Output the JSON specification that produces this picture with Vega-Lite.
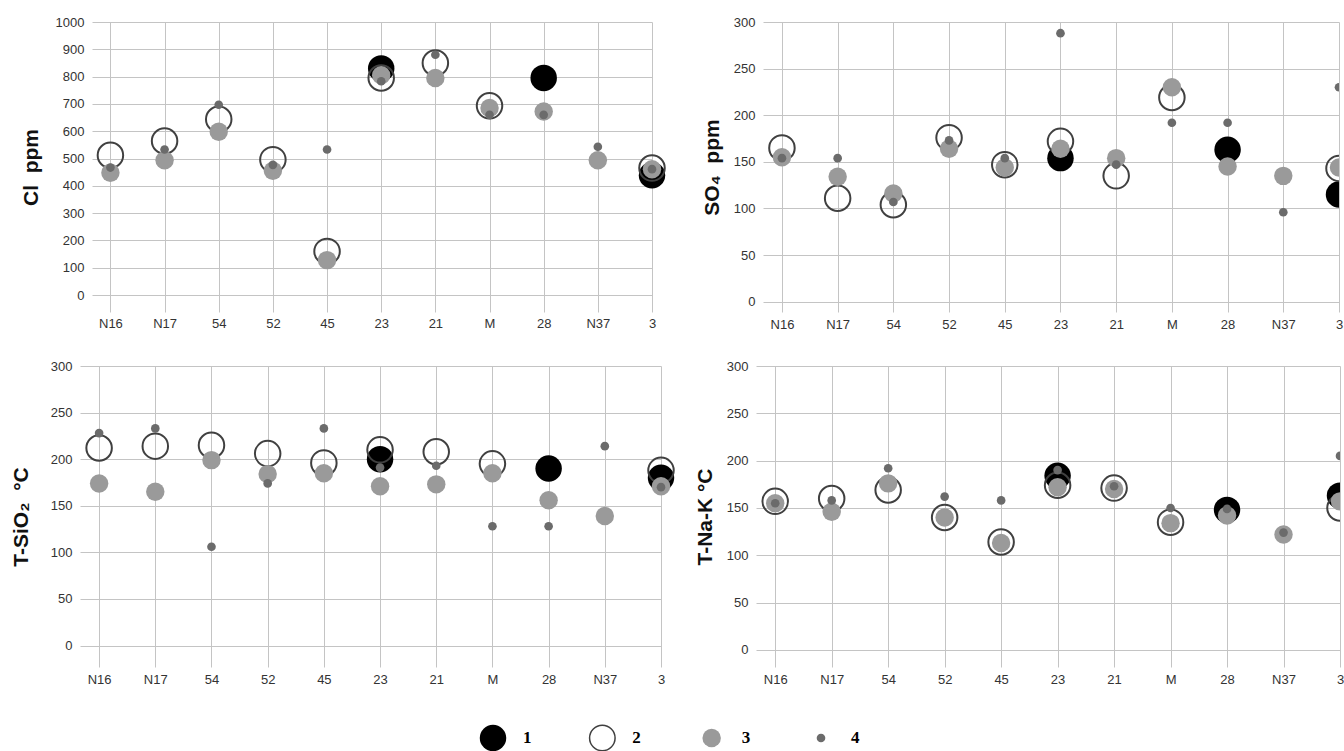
{
  "$schema": "https://vega.github.io/schema/vega-lite/v6.json",
  "padding": {"left": 10, "top": 16, "right": 0, "bottom": 0},
  "background": "white",
  "spacing": 29,
  "datasets": {
    "main": [
      {"panel": "Cl", "well": "N16", "series": 2, "value": 512},
      {"panel": "Cl", "well": "N16", "series": 3, "value": 448},
      {"panel": "Cl", "well": "N16", "series": 4, "value": 467},
      {"panel": "Cl", "well": "N17", "series": 2, "value": 564},
      {"panel": "Cl", "well": "N17", "series": 3, "value": 494},
      {"panel": "Cl", "well": "N17", "series": 4, "value": 533},
      {"panel": "Cl", "well": "54", "series": 2, "value": 644},
      {"panel": "Cl", "well": "54", "series": 3, "value": 598},
      {"panel": "Cl", "well": "54", "series": 4, "value": 697},
      {"panel": "Cl", "well": "52", "series": 2, "value": 496},
      {"panel": "Cl", "well": "52", "series": 3, "value": 455},
      {"panel": "Cl", "well": "52", "series": 4, "value": 477},
      {"panel": "Cl", "well": "45", "series": 2, "value": 160},
      {"panel": "Cl", "well": "45", "series": 3, "value": 128},
      {"panel": "Cl", "well": "45", "series": 4, "value": 533},
      {"panel": "Cl", "well": "23", "series": 1, "value": 830},
      {"panel": "Cl", "well": "23", "series": 2, "value": 795},
      {"panel": "Cl", "well": "23", "series": 3, "value": 805},
      {"panel": "Cl", "well": "23", "series": 4, "value": 783},
      {"panel": "Cl", "well": "21", "series": 2, "value": 850},
      {"panel": "Cl", "well": "21", "series": 3, "value": 795},
      {"panel": "Cl", "well": "21", "series": 4, "value": 880},
      {"panel": "Cl", "well": "M", "series": 2, "value": 693},
      {"panel": "Cl", "well": "M", "series": 3, "value": 685},
      {"panel": "Cl", "well": "M", "series": 4, "value": 660},
      {"panel": "Cl", "well": "28", "series": 1, "value": 795},
      {"panel": "Cl", "well": "28", "series": 3, "value": 672},
      {"panel": "Cl", "well": "28", "series": 4, "value": 660},
      {"panel": "Cl", "well": "N37", "series": 3, "value": 494},
      {"panel": "Cl", "well": "N37", "series": 4, "value": 543},
      {"panel": "Cl", "well": "3", "series": 1, "value": 439},
      {"panel": "Cl", "well": "3", "series": 2, "value": 465},
      {"panel": "Cl", "well": "3", "series": 3, "value": 461},
      {"panel": "Cl", "well": "3", "series": 4, "value": 461},

      {"panel": "SO4", "well": "N16", "series": 2, "value": 165},
      {"panel": "SO4", "well": "N16", "series": 3, "value": 155},
      {"panel": "SO4", "well": "N16", "series": 4, "value": 154},
      {"panel": "SO4", "well": "N17", "series": 2, "value": 111},
      {"panel": "SO4", "well": "N17", "series": 3, "value": 134},
      {"panel": "SO4", "well": "N17", "series": 4, "value": 154},
      {"panel": "SO4", "well": "54", "series": 2, "value": 104},
      {"panel": "SO4", "well": "54", "series": 3, "value": 116},
      {"panel": "SO4", "well": "54", "series": 4, "value": 107},
      {"panel": "SO4", "well": "52", "series": 2, "value": 176},
      {"panel": "SO4", "well": "52", "series": 3, "value": 164},
      {"panel": "SO4", "well": "52", "series": 4, "value": 173},
      {"panel": "SO4", "well": "45", "series": 2, "value": 147},
      {"panel": "SO4", "well": "45", "series": 3, "value": 144},
      {"panel": "SO4", "well": "45", "series": 4, "value": 154},
      {"panel": "SO4", "well": "23", "series": 1, "value": 154},
      {"panel": "SO4", "well": "23", "series": 2, "value": 172},
      {"panel": "SO4", "well": "23", "series": 3, "value": 164},
      {"panel": "SO4", "well": "23", "series": 4, "value": 288},
      {"panel": "SO4", "well": "21", "series": 2, "value": 135},
      {"panel": "SO4", "well": "21", "series": 3, "value": 154},
      {"panel": "SO4", "well": "21", "series": 4, "value": 147},
      {"panel": "SO4", "well": "M", "series": 2, "value": 219},
      {"panel": "SO4", "well": "M", "series": 3, "value": 230},
      {"panel": "SO4", "well": "M", "series": 4, "value": 192},
      {"panel": "SO4", "well": "28", "series": 1, "value": 163},
      {"panel": "SO4", "well": "28", "series": 3, "value": 145},
      {"panel": "SO4", "well": "28", "series": 4, "value": 192},
      {"panel": "SO4", "well": "N37", "series": 3, "value": 135},
      {"panel": "SO4", "well": "N37", "series": 4, "value": 96},
      {"panel": "SO4", "well": "3", "series": 1, "value": 115},
      {"panel": "SO4", "well": "3", "series": 2, "value": 143},
      {"panel": "SO4", "well": "3", "series": 3, "value": 144},
      {"panel": "SO4", "well": "3", "series": 4, "value": 230},

      {"panel": "SiO2", "well": "N16", "series": 2, "value": 212},
      {"panel": "SiO2", "well": "N16", "series": 3, "value": 174},
      {"panel": "SiO2", "well": "N16", "series": 4, "value": 228},
      {"panel": "SiO2", "well": "N17", "series": 2, "value": 214},
      {"panel": "SiO2", "well": "N17", "series": 3, "value": 165},
      {"panel": "SiO2", "well": "N17", "series": 4, "value": 233},
      {"panel": "SiO2", "well": "54", "series": 2, "value": 215},
      {"panel": "SiO2", "well": "54", "series": 3, "value": 199},
      {"panel": "SiO2", "well": "54", "series": 4, "value": 106},
      {"panel": "SiO2", "well": "52", "series": 2, "value": 206},
      {"panel": "SiO2", "well": "52", "series": 3, "value": 184},
      {"panel": "SiO2", "well": "52", "series": 4, "value": 174},
      {"panel": "SiO2", "well": "45", "series": 2, "value": 196},
      {"panel": "SiO2", "well": "45", "series": 3, "value": 185},
      {"panel": "SiO2", "well": "45", "series": 4, "value": 233},
      {"panel": "SiO2", "well": "23", "series": 1, "value": 200},
      {"panel": "SiO2", "well": "23", "series": 2, "value": 210},
      {"panel": "SiO2", "well": "23", "series": 3, "value": 171},
      {"panel": "SiO2", "well": "23", "series": 4, "value": 191},
      {"panel": "SiO2", "well": "21", "series": 2, "value": 208},
      {"panel": "SiO2", "well": "21", "series": 3, "value": 173},
      {"panel": "SiO2", "well": "21", "series": 4, "value": 193},
      {"panel": "SiO2", "well": "M", "series": 2, "value": 195},
      {"panel": "SiO2", "well": "M", "series": 3, "value": 185},
      {"panel": "SiO2", "well": "M", "series": 4, "value": 128},
      {"panel": "SiO2", "well": "28", "series": 1, "value": 190},
      {"panel": "SiO2", "well": "28", "series": 3, "value": 156},
      {"panel": "SiO2", "well": "28", "series": 4, "value": 128},
      {"panel": "SiO2", "well": "N37", "series": 3, "value": 139},
      {"panel": "SiO2", "well": "N37", "series": 4, "value": 214},
      {"panel": "SiO2", "well": "3", "series": 1, "value": 180},
      {"panel": "SiO2", "well": "3", "series": 2, "value": 188},
      {"panel": "SiO2", "well": "3", "series": 3, "value": 171},
      {"panel": "SiO2", "well": "3", "series": 4, "value": 170},

      {"panel": "NaK", "well": "N16", "series": 2, "value": 157},
      {"panel": "NaK", "well": "N16", "series": 3, "value": 155},
      {"panel": "NaK", "well": "N16", "series": 4, "value": 155},
      {"panel": "NaK", "well": "N17", "series": 2, "value": 160},
      {"panel": "NaK", "well": "N17", "series": 3, "value": 146},
      {"panel": "NaK", "well": "N17", "series": 4, "value": 158},
      {"panel": "NaK", "well": "54", "series": 2, "value": 169},
      {"panel": "NaK", "well": "54", "series": 3, "value": 176},
      {"panel": "NaK", "well": "54", "series": 4, "value": 192},
      {"panel": "NaK", "well": "52", "series": 2, "value": 140},
      {"panel": "NaK", "well": "52", "series": 3, "value": 140},
      {"panel": "NaK", "well": "52", "series": 4, "value": 162},
      {"panel": "NaK", "well": "45", "series": 2, "value": 114},
      {"panel": "NaK", "well": "45", "series": 3, "value": 113},
      {"panel": "NaK", "well": "45", "series": 4, "value": 158},
      {"panel": "NaK", "well": "23", "series": 1, "value": 184},
      {"panel": "NaK", "well": "23", "series": 2, "value": 174},
      {"panel": "NaK", "well": "23", "series": 3, "value": 172},
      {"panel": "NaK", "well": "23", "series": 4, "value": 190},
      {"panel": "NaK", "well": "21", "series": 2, "value": 171},
      {"panel": "NaK", "well": "21", "series": 3, "value": 170},
      {"panel": "NaK", "well": "21", "series": 4, "value": 173},
      {"panel": "NaK", "well": "M", "series": 2, "value": 135},
      {"panel": "NaK", "well": "M", "series": 3, "value": 134},
      {"panel": "NaK", "well": "M", "series": 4, "value": 150},
      {"panel": "NaK", "well": "28", "series": 1, "value": 148},
      {"panel": "NaK", "well": "28", "series": 3, "value": 142},
      {"panel": "NaK", "well": "28", "series": 4, "value": 149},
      {"panel": "NaK", "well": "N37", "series": 3, "value": 122},
      {"panel": "NaK", "well": "N37", "series": 4, "value": 124},
      {"panel": "NaK", "well": "3", "series": 1, "value": 163},
      {"panel": "NaK", "well": "3", "series": 2, "value": 150},
      {"panel": "NaK", "well": "3", "series": 3, "value": 157},
      {"panel": "NaK", "well": "3", "series": 4, "value": 205}
    ],
    "legend": [
      {"series": 1, "label": "1"},
      {"series": 2, "label": "2"},
      {"series": 3, "label": "3"},
      {"series": 4, "label": "4"}
    ]
  },
  "vconcat": [
    {
      "spacing": 31,
      "hconcat": [
        {
          "width": 572, "height": 290,
          "data": {"name": "main"},
          "transform": [{"filter": "datum.panel == 'Cl'"}],
          "mark": {"type": "circle", "opacity": 1, "strokeWidth": 2},
          "encoding": {
            "x": {"field": "well", "type": "nominal", "scale": {"type": "point", "domain": ["N16","N17","54","52","45","23","21","M","28","N37","3"], "padding": 0.17, "align": 1, "range": [12, 572]}, "axis": {"title": null, "grid": true, "labelAngle": 0, "labelPadding": 5}},
            "y": {"field": "value", "type": "quantitative", "scale": {"domain": [-62, 1000], "nice": false, "zero": false}, "axis": {"title": "Cl\u00a0\u00a0ppm", "format": "d", "values": [0,100,200,300,400,500,600,700,800,900,1000], "labelPadding": -4, "titlePadding": 14}},
            "fill": {"field": "series", "type": "nominal", "scale": {"domain": [1,2,3,4], "range": ["#000000", "transparent", "#9a9a9a", "#6b6b6b"]}, "legend": null},
            "stroke": {"field": "series", "type": "nominal", "scale": {"domain": [1,2,3,4], "range": ["transparent", "#404040", "transparent", "transparent"]}, "legend": null},
            "size": {"field": "series", "type": "quantitative", "scale": {"type": "threshold", "domain": [1.5, 2.5, 3.5], "range": [700, 650, 340, 75]}, "legend": null}
          }
        },
        {
          "width": 576, "height": 290,
          "data": {"name": "main"},
          "transform": [{"filter": "datum.panel == 'SO4'"}],
          "mark": {"type": "circle", "opacity": 1, "strokeWidth": 2, "clip": true},
          "encoding": {
            "x": {"field": "well", "type": "nominal", "scale": {"type": "point", "domain": ["N16","N17","54","52","45","23","21","M","28","N37","3"], "padding": 0.17, "align": 1}, "axis": {"title": null, "grid": true, "labelAngle": 0, "labelPadding": 6}},
            "y": {"field": "value", "type": "quantitative", "scale": {"domain": [-11, 300], "nice": false, "zero": false}, "axis": {"title": "SO\u2084\u00a0\u00a0ppm", "values": [0,50,100,150,200,250,300], "labelPadding": 8, "titlePadding": 11}},
            "fill": {"field": "series", "type": "nominal", "scale": {"domain": [1,2,3,4], "range": ["#000000", "transparent", "#9a9a9a", "#6b6b6b"]}, "legend": null},
            "stroke": {"field": "series", "type": "nominal", "scale": {"domain": [1,2,3,4], "range": ["transparent", "#404040", "transparent", "transparent"]}, "legend": null},
            "size": {"field": "series", "type": "quantitative", "scale": {"type": "threshold", "domain": [1.5, 2.5, 3.5], "range": [729, 680, 340, 75]}, "legend": null}
          }
        }
      ]
    },
    {
      "spacing": 35,
      "vconcat": [
        {
          "spacing": 15,
          "hconcat": [
            {
              "width": 581, "height": 301,
              "data": {"name": "main"},
              "transform": [{"filter": "datum.panel == 'SiO2'"}],
              "mark": {"type": "circle", "opacity": 1, "strokeWidth": 2},
              "encoding": {
                "x": {"field": "well", "type": "nominal", "scale": {"type": "point", "domain": ["N16","N17","54","52","45","23","21","M","28","N37","3"], "padding": 0.17, "align": 1}, "axis": {"title": null, "grid": true, "labelAngle": 0, "labelPadding": 6}},
                "y": {"field": "value", "type": "quantitative", "scale": {"domain": [-23, 300], "nice": false, "zero": false}, "axis": {"title": "T-SiO\u2082\u00a0\u00a0°C", "values": [0,50,100,150,200,250,300], "labelPadding": 8, "titlePadding": 19}},
                "fill": {"field": "series", "type": "nominal", "scale": {"domain": [1,2,3,4], "range": ["#000000", "transparent", "#9a9a9a", "#6b6b6b"]}, "legend": null},
                "stroke": {"field": "series", "type": "nominal", "scale": {"domain": [1,2,3,4], "range": ["transparent", "#404040", "transparent", "transparent"]}, "legend": null},
                "size": {"field": "series", "type": "quantitative", "scale": {"type": "threshold", "domain": [1.5, 2.5, 3.5], "range": [760, 729, 361, 80]}, "legend": null}
              }
            },
            {
              "width": 584, "height": 301,
              "data": {"name": "main"},
              "transform": [{"filter": "datum.panel == 'NaK'"}],
              "mark": {"type": "circle", "opacity": 1, "strokeWidth": 2, "clip": true},
              "encoding": {
                "x": {"field": "well", "type": "nominal", "scale": {"type": "point", "domain": ["N16","N17","54","52","45","23","21","M","28","N37","3"], "padding": 0.17, "align": 1}, "axis": {"title": null, "grid": true, "labelAngle": 0, "labelPadding": 6}},
                "y": {"field": "value", "type": "quantitative", "scale": {"domain": [-18, 300], "nice": false, "zero": false}, "axis": {"title": "T-Na-K °C", "values": [0,50,100,150,200,250,300], "labelPadding": 8, "titlePadding": 11}},
                "fill": {"field": "series", "type": "nominal", "scale": {"domain": [1,2,3,4], "range": ["#000000", "transparent", "#9a9a9a", "#6b6b6b"]}, "legend": null},
                "stroke": {"field": "series", "type": "nominal", "scale": {"domain": [1,2,3,4], "range": ["transparent", "#404040", "transparent", "transparent"]}, "legend": null},
                "size": {"field": "series", "type": "quantitative", "scale": {"type": "threshold", "domain": [1.5, 2.5, 3.5], "range": [760, 729, 361, 80]}, "legend": null}
              }
            }
          ]
        },
        {
          "width": 880, "height": 28,
          "data": {"name": "legend"},
          "layer": [
            {
              "mark": {"type": "circle", "opacity": 1, "strokeWidth": 1.5},
              "encoding": {
                "x": {"field": "label", "type": "nominal", "scale": {"type": "point", "domain": ["1","2","3","4"], "range": [413, 741], "padding": 0}, "axis": null},
                "fill": {"field": "series", "type": "nominal", "scale": {"domain": [1,2,3,4], "range": ["#000000", "transparent", "#8c8c8c", "#8c8c8c"]}, "legend": null},
                "stroke": {"field": "series", "type": "nominal", "scale": {"domain": [1,2,3,4], "range": ["transparent", "#8a8a8a", "transparent", "transparent"]}, "legend": null},
                "size": {"field": "series", "type": "quantitative", "scale": {"type": "threshold", "domain": [1.5, 2.5, 3.5], "range": [784, 810, 380, 100]}, "legend": null}
              }
            },
            {
              "mark": {"type": "text", "dx": 30, "align": "left", "baseline": "middle", "font": "Liberation Serif", "fontWeight": "bold", "fontSize": 17, "color": "#000000"},
              "encoding": {
                "x": {"field": "label", "type": "nominal", "axis": null},
                "text": {"field": "label"}
              }
            }
          ]
        }
      ]
    }
  ],
  "config": {
    "view": {"stroke": null},
    "font": "Liberation Sans",
    "axis": {
      "labelFont": "Liberation Sans",
      "labelFontSize": 13,
      "labelColor": "#333333",
      "gridColor": "#c4c4c4",
      "gridWidth": 1,
      "domain": false,
      "ticks": false,
      "titleFont": "Liberation Sans",
      "titleFontSize": 21,
      "titleFontWeight": "bold",
      "titleColor": "#111111"
    }
  }
}
